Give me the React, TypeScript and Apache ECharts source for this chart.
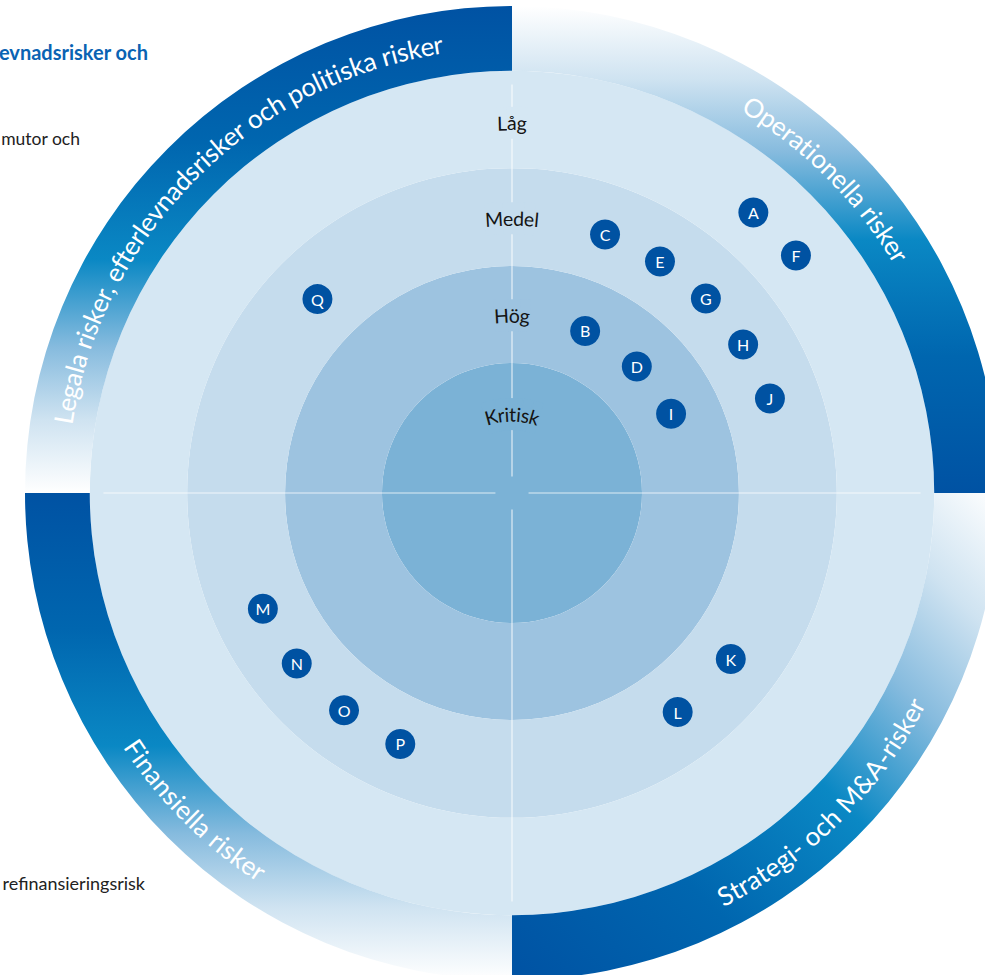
import React, { useEffect, useRef } from "react";
import * as echarts from "echarts";

// ---- data ----
// quadrant categories, clockwise from 12 o'clock
const quadrantNames = [
  "Operationella risker",
  "Strategi- och M&A-risker",
  "Finansiella risker",
  "Legala risker, efterlevnadsrisker och politiska risker",
];
// risk levels, from the centre outwards
const levelNames = ["Kritisk", "Hög", "Medel", "Låg"];
// outer edge of each level ring (radius axis, % of wheel radius)
const levelOuter = [26.7, 46.6, 66.7, 86.7];
const bandOuter = 100;
// radius at which each level's label / markers sit
const levelRadius = [16.2, 36.5, 56.4, 76.0];

// risks: id, level, bearing (deg clockwise from 12 o'clock)
const riskIds = ["A", "B", "C", "D", "E", "F", "G", "H", "I", "J", "K", "L", "M", "N", "O", "P", "Q"];
const riskLevels = ["Låg", "Hög", "Medel", "Hög", "Medel", "Låg", "Medel", "Medel", "Hög", "Medel", "Medel", "Medel", "Medel", "Medel", "Medel", "Medel", "Medel"];
const riskAngles = [40.7, 24.3, 19.8, 44.6, 32.6, 50.1, 44.9, 57.3, 63.5, 69.9, 127.2, 142.9, 245.1, 231.6, 217.7, 204.0, 314.9];

// side texts (cut-off fragments of the surrounding page)
const sideTexts = ["evnadsrisker och", "mutor och", "refinansieringsrisk"];

// ---- layout / style ----
const CX = 512;
const CY = 493;
const R_PX = 487;
const ringColors = ["#7bb2d6", "#9dc3e0", "#c5dced", "#d5e7f3"];
const quadMid = [45, 135, 225, 315];
const quadInward = [false, true, true, false];
const FONT = "Lato, 'Noto Sans', sans-serif";
const BAND_FONT = 26;
const BAND_WEIGHT = 400;
const LEVEL_FONT = 19.5;

const gradStops = [
  { offset: 0, color: "#ffffff" },
  { offset: 0.15, color: "#cfe3f1" },
  { offset: 0.3, color: "#86bbde" },
  { offset: 0.48, color: "#0a88c4" },
  { offset: 0.72, color: "#0066af" },
  { offset: 1, color: "#0052a3" },
];
// gradient direction per quadrant (white end -> dark end), bbox-relative
const gradDir = [
  [0, 0, 0, 1],
  [1, 0, 0, 1],
  [0, 1, 0, 0],
  [0, 1, 0, 0],
];

function measureFn(font: string) {
  const c = document.createElement("canvas");
  const ctx = c.getContext("2d")!;
  ctx.font = font;
  return (s: string) => ctx.measureText(s).width;
}

function arcText(
  text: string,
  midBearing: number,
  radiusPct: number,
  fontSize: number,
  inward: boolean,
  weight: number | string = "normal",
  extraLabel: any = {}
) {
  const m = measureFn(`${weight} ${fontSize}px Lato`);
  const rpx = (radiusPct / 100) * R_PX;
  const total = m(text);
  const chars = Array.from(text);
  const out: any[] = [];
  let prefix = "";
  chars.forEach((ch) => {
    const pos = m(prefix);
    const w = m(prefix + ch) - pos;
    prefix += ch;
    if (ch === " ") return;
    const c = pos + w / 2 - total / 2;
    const dAng = (c / rpx) * (180 / Math.PI);
    const ang = inward ? midBearing - dAng : midBearing + dAng;
    let rot = inward ? 180 - ang : -ang;
    while (rot > 180) rot -= 360;
    while (rot <= -180) rot += 360;
    out.push({
      name: ch,
      value: [radiusPct, (ang + 360) % 360],
      label: { rotate: rot, ...extraLabel },
    });
  });
  return out;
}

export default function App() {
  const ref = useRef<HTMLDivElement>(null);
  useEffect(() => {
    if (!ref.current) return;
    const chart = echarts.init(ref.current, null, { renderer: "svg" });

    const polarBase = { center: [CX, CY], radius: R_PX };
    const hiddenRadius = (i: number) => ({
      polarIndex: i,
      type: "value",
      min: 0,
      max: 100,
      show: false,
    });

    const series: any[] = [];

    // level rings (full circles)
    levelNames.forEach((name, i) => {
      series.push({
        type: "bar",
        name,
        coordinateSystem: "polar",
        polarIndex: 0,
        stack: "rings",
        barCategoryGap: "0%",
        silent: true,
        data: [levelOuter[i] - (i === 0 ? 0 : levelOuter[i - 1])],
        itemStyle: { color: ringColors[i] },
        z: 1,
      });
    });

    // outer band, split by quadrant
    series.push({
      type: "bar",
      coordinateSystem: "polar",
      polarIndex: 1,
      stack: "band",
      barCategoryGap: "0%",
      silent: true,
      data: quadrantNames.map(() => levelOuter[levelOuter.length - 1]),
      itemStyle: { color: "rgba(0,0,0,0)" },
      z: 1,
    });
    series.push({
      type: "bar",
      coordinateSystem: "polar",
      polarIndex: 1,
      stack: "band",
      barCategoryGap: "0%",
      silent: true,
      data: quadrantNames.map((_, i) => ({
        value: bandOuter - levelOuter[levelOuter.length - 1],
        itemStyle: {
          color: new echarts.graphic.LinearGradient(
            gradDir[i][0],
            gradDir[i][1],
            gradDir[i][2],
            gradDir[i][3],
            gradStops
          ),
        },
      })),
      z: 1,
    });

    // thin white cross
    [0, 90, 180, 270].forEach((a) => {
      series.push({
        type: "line",
        coordinateSystem: "polar",
        polarIndex: 2,
        symbol: "none",
        silent: true,
        lineStyle: { color: "rgba(255,255,255,0.75)", width: 1.2 },
        data: [
          [3.4, a],
          [83.9, a],
        ],
        z: 2,
      });
    });

    // level labels (curved)
    const levelData: any[] = [];
    levelNames.forEach((name, i) => {
      levelData.push(
        ...arcText(name, 0, levelRadius[i], LEVEL_FONT, false, "normal", {
          backgroundColor: ringColors[i],
          padding: [6, 0],
        })
      );
    });
    const textScatter = {
      type: "scatter",
      coordinateSystem: "polar",
      polarIndex: 2,
      symbolSize: 1,
      silent: true,
      itemStyle: { color: "rgba(0,0,0,0)", opacity: 1 },
      z: 4,
    };
    series.push({
      ...textScatter,
      label: {
        show: true,
        position: "inside",
        formatter: "{b}",
        color: "#141414",
        fontSize: LEVEL_FONT,
        fontFamily: FONT,
      },
      data: levelData,
    });

    // quadrant titles along the band
    const bandData: any[] = [];
    quadrantNames.forEach((name, i) => {
      bandData.push(
        ...arcText(name, quadMid[i], (455 / R_PX) * 100, BAND_FONT, quadInward[i], BAND_WEIGHT)
      );
    });
    series.push({
      ...textScatter,
      label: {
        show: true,
        position: "inside",
        formatter: "{b}",
        color: "#ffffff",
        fontSize: BAND_FONT,
        fontWeight: BAND_WEIGHT,
        fontFamily: FONT,
      },
      data: bandData,
    });

    // risk markers
    series.push({
      type: "scatter",
      coordinateSystem: "polar",
      polarIndex: 2,
      symbol: "circle",
      symbolSize: 30,
      itemStyle: { color: "#0052a2", opacity: 1 },
      label: {
        show: true,
        position: "inside",
        formatter: "{b}",
        color: "#ffffff",
        fontSize: 16,
        fontFamily: FONT,
      },
      data: riskIds.map((id, i) => ({
        name: id,
        value: [levelRadius[levelNames.indexOf(riskLevels[i])], riskAngles[i]],
      })),
      z: 5,
    });

    chart.setOption({
      animation: false,
      backgroundColor: "#ffffff",
      polar: [polarBase, polarBase, polarBase],
      angleAxis: [
        { polarIndex: 0, type: "category", data: ["all"], startAngle: 90, show: false },
        { polarIndex: 1, type: "category", data: quadrantNames, startAngle: 90, clockwise: true, show: false },
        { polarIndex: 2, type: "value", min: 0, max: 360, startAngle: 90, clockwise: true, show: false },
      ],
      radiusAxis: [hiddenRadius(0), hiddenRadius(1), hiddenRadius(2)],
      graphic: [
        {
          type: "text",
          x: 148,
          y: 52,
          z: 10,
          style: {
            text: sideTexts[0],
            align: "right",
            verticalAlign: "middle",
            fill: "#0a63b3",
            font: `bold 20px ${FONT}`,
          },
        },
        {
          type: "text",
          x: 80,
          y: 138,
          z: 10,
          style: {
            text: sideTexts[1],
            align: "right",
            verticalAlign: "middle",
            fill: "#222222",
            font: `17.5px ${FONT}`,
          },
        },
        {
          type: "text",
          x: 145,
          y: 883,
          z: 10,
          style: {
            text: sideTexts[2],
            align: "right",
            verticalAlign: "middle",
            fill: "#222222",
            font: `18px ${FONT}`,
          },
        },
      ],
      series,
    });

    return () => chart.dispose();
  }, []);

  return (
    <div
      ref={ref}
      style={{ position: "absolute", left: 0, top: 0, width: 985, height: 975 }}
    />
  );
}
